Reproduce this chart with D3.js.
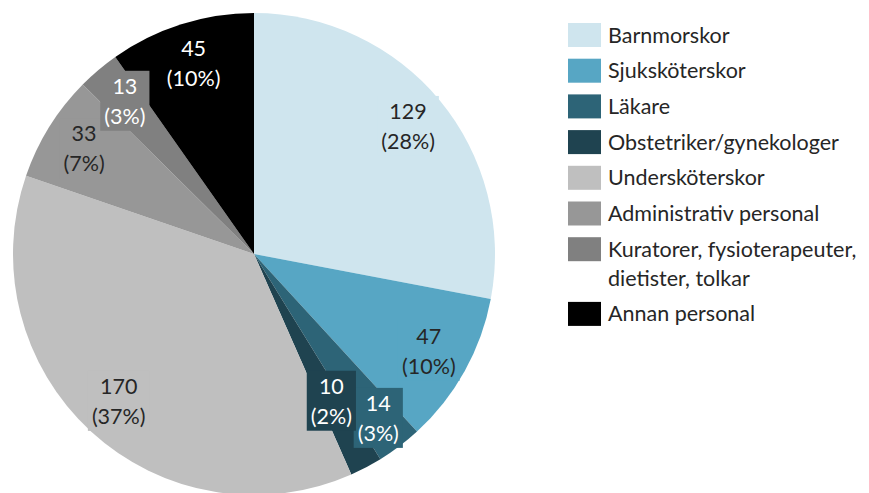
<!DOCTYPE html>
<html lang="sv">
<head>
  <meta charset="UTF-8">
  <title>Personal per yrkesgrupp - cirkeldiagram</title>
  <script src="https://d3js.org/d3.v7.min.js"></script>
  <style>
    body { margin: 0; background: #fff; }
    text { font-family: Lato, "Open Sans", sans-serif; }
  </style>
</head>
<body>
  <div id="chart"></div>

  <script>
    // categories and values, clockwise from twelve o'clock
    const categories = [
      "Barnmorskor",
      "Sjuksköterskor",
      "Läkare",
      "Obstetriker/gynekologer",
      "Undersköterskor",
      "Administrativ personal",
      "Kuratorer, fysioterapeuter, dietister, tolkar",
      "Annan personal"
    ];
    const values = [129, 47, 14, 10, 170, 33, 13, 45];
    const colors = ["#cfe5ee", "#57a6c4", "#2d6477", "#1f4350", "#bfbfbf", "#979797", "#808080", "#000000"];
    // legend text split over lines
    const legendLines = [
      ["Barnmorskor"],
      ["Sjuksköterskor"],
      ["Läkare"],
      ["Obstetriker/gynekologer"],
      ["Undersköterskor"],
      ["Administrativ personal"],
      ["Kuratorer, fysioterapeuter,", "dietister, tolkar"],
      ["Annan personal"]
    ];

    const width = 869, height = 493;
    const cx = 254, cy = 254, R = 241;
    const fontSize = 21.5;

    // labels pushed in/out where the default spot would collide
    const labelRadius = { "Läkare": 0.855, "Obstetriker/gynekologer": 0.69 };

    const data = categories.map((c, i) => ({ name: c, value: values[i], color: colors[i] }));
    const total = d3.sum(values);

    const svg = d3.select("#chart")
      .append("svg")
      .attr("width", width)
      .attr("height", height);

    const pie = d3.pie().value(d => d.value).sort(null);
    const arc = d3.arc().innerRadius(0).outerRadius(R);
    const arcs = pie(data);

    const g = svg.append("g").attr("transform", "translate(" + cx + "," + cy + ")");

    g.selectAll("path")
      .data(arcs)
      .enter().append("path")
        .attr("d", arc)
        .attr("fill", d => d.data.color);

    // data labels: value and share, on a box of the slice colour
    const isDark = c => d3.hsl(c).l < 0.55;
    arcs.forEach(d => {
      const k = labelRadius[d.data.name] || 0.83;
      const mid = (d.startAngle + d.endAngle) / 2;
      const x = Math.sin(mid) * R * k;
      const y = -Math.cos(mid) * R * k;
      const lab = g.append("g").attr("transform", "translate(" + x + "," + y + ")");
      const box = lab.append("rect").attr("fill", d.data.color);
      const t = lab.append("text")
        .attr("text-anchor", "middle")
        .style("font-size", fontSize + "px")
        .attr("fill", isDark(d.data.color) ? "#ffffff" : "#262626");
      t.append("tspan").attr("x", 0).attr("y", -15).attr("dy", "0.35em").text(d.data.value);
      t.append("tspan").attr("x", 0).attr("y", 15).attr("dy", "0.35em")
        .text("(" + Math.round(d.data.value / total * 100) + "%)");
      const bb = t.node().getBBox();
      box.attr("x", bb.x - 4).attr("y", bb.y - 2)
        .attr("width", bb.width + 8).attr("height", bb.height + 4);
    });

    // legend
    const legend = svg.append("g").attr("transform", "translate(568,0)");
    let yPos = 35;
    data.forEach((d, i) => {
      const row = legend.append("g").attr("transform", "translate(0," + yPos + ")");
      row.append("rect")
        .attr("x", 0).attr("y", -12)
        .attr("width", 33).attr("height", 24)
        .attr("fill", d.color);
      legendLines[i].forEach((line, j) => {
        row.append("text")
          .attr("x", 40)
          .attr("y", j * 29)
          .attr("dy", "0.35em")
          .style("font-size", fontSize + "px")
          .attr("fill", "#262626")
          .text(line);
      });
      yPos += 35.7 + (legendLines[i].length - 1) * 29;
    });
  </script>
</body>
</html>
